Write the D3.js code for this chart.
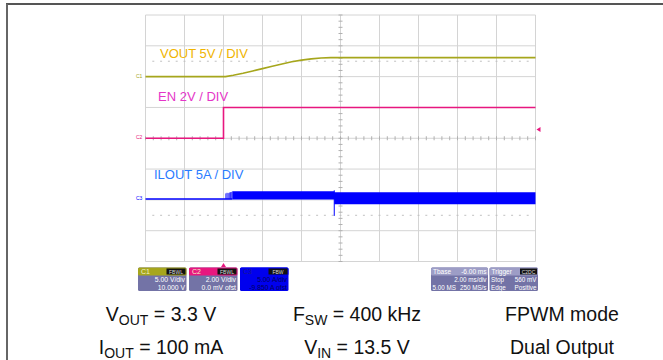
<!DOCTYPE html>
<html lang="en">
<head>
	<meta charset="utf-8">
	<title>Startup FPWM</title>
	<script src="https://d3js.org/d3.v7.min.js"></script>
	<style>
		body { margin: 0; background: #fff; }
		text { font-family: "Liberation Sans", Arial, sans-serif; }
	</style>
</head>
<body>
	<script>

	var width = 663, height = 360

	// time axis, ms (Tbase -6.00 ms, 2.00 ms/div)
	var timeTicks = [-4, -2, 0, 2, 4, 6, 8, 10, 12, 14, 16]
	var divTicks = [-4, -3, -2, -1, 0, 1, 2, 3, 4]

	// VOUT, V
	var voutTime = [-4, 0.1, 0.5, 1, 1.5, 2, 2.5, 3, 3.5, 4, 4.5, 5, 5.5, 16]
	var voutVal = [0, 0, 0.22, 0.55, 0.92, 1.3, 1.68, 2.05, 2.4, 2.68, 2.88, 3.02, 3.08, 3.08]

	// EN, V
	var enTime = [-4, 0, 0, 16]
	var enVal = [0, 0, 2, 2]

	// ILOUT, A (baseline, then switching envelope)
	var ilBaseTime = [-4, 0.45]
	var ilBaseVal = [0, 0]
	var ilSpikeTime = [0.12, 0.18, 0.24, 0.3, 0.36, 0.42]
	var ilSpikeVal = [0.9, 1.0, 0.95, 1.05, 1.1, 1.15]
	var ilBandTime = [0.45, 5.68, 5.68, 16]
	var ilBandHi = [1.25, 1.25, 1.1, 1.1]
	var ilBandLo = [-0.1, -0.1, -0.85, -0.85]
	var ilStepTime = 5.68
	var ilStepRange = [-2.75, 1.4]

	// channel settings
	var channels = [
		{name: "C1", perDiv: 5, offset: 10, color: "#a6a61c", label: "VOUT 5V / DIV", labelColor: "#f0b400"},
		{name: "C2", perDiv: 2, offset: 0, color: "#e8177f", label: "EN 2V / DIV", labelColor: "#e535c8"},
		{name: "C3", perDiv: 5, offset: -9.85, color: "#0000ff", label: "ILOUT 5A / DIV", labelColor: "#2a7cff"}
	]
	var triggerLevel = 0.56

	var boxInfo = [
		{title: "C1", badge: "FBWL", lines: ["5.00 V/div", "10.000 V"]},
		{title: "C2", badge: "FBWL", lines: ["2.00 V/div", "0.0 mV ofst"]},
		{title: "C3", badge: "FBW", lines: ["5.00 A/div", "-9.850 A ofst"]}
	]

	var svg = d3.select("body").append("svg")
		.attr("width", width)
		.attr("height", height)

	// frame
	svg.append("line").attr("x1", 6).attr("x2", width).attr("y1", 4).attr("y2", 4)
		.attr("stroke", "#555").attr("stroke-width", 2)
	svg.append("line").attr("x1", 7).attr("x2", 7).attr("y1", 4).attr("y2", height)
		.attr("stroke", "#666").attr("stroke-width", 2)

	var x = d3.scaleLinear().domain([-4, 16]).range([145.5, 535.5])
	var y = d3.scaleLinear().domain([-4, 4]).range([261.5, 15])

	function ch(i) {
		var c = channels[i]
		return function(v) { return y((v + c.offset) / c.perDiv) }
	}

	var grid = svg.append("g")
	grid.selectAll(".vg").data(timeTicks).enter().append("line")
		.attr("x1", d => x(d)).attr("x2", d => x(d))
		.attr("y1", y(4)).attr("y2", y(-4))
		.attr("stroke", "#d4d4d4").attr("stroke-width", 1)
	grid.selectAll(".hg").data(divTicks).enter().append("line")
		.attr("x1", x(-4)).attr("x2", x(16))
		.attr("y1", d => y(d)).attr("y2", d => y(d))
		.attr("stroke", "#d4d4d4").attr("stroke-width", 1)

	// minor ticks on centre axes and dotted reference lines
	var minorX = d3.range(-4, 16.01, 0.4)
	var minorY = d3.range(-4, 4.01, 0.2)
	grid.selectAll(".tx").data(minorX).enter().append("line")
		.attr("x1", d => x(d)).attr("x2", d => x(d))
		.attr("y1", y(0) - 2).attr("y2", y(0) + 2)
		.attr("stroke", "#b0b0b0")
	grid.selectAll(".ty").data(minorY).enter().append("line")
		.attr("x1", x(6) - 2).attr("x2", x(6) + 2)
		.attr("y1", d => y(d)).attr("y2", d => y(d))
		.attr("stroke", "#b0b0b0")
	;[2.5, -2.5].forEach(function(lv) {
		grid.selectAll(null).data(minorX.slice(1, -1)).enter().append("line")
			.attr("x1", d => x(d) - 1).attr("x2", d => x(d) + 1)
			.attr("y1", y(lv)).attr("y2", y(lv))
			.attr("stroke", "#c0c0c0")
	})

	// trace labels
	channels.forEach(function(c, i) {
		svg.append("text").attr("x", 136).attr("y", ch(i)(0) + 1)
			.attr("font-size", 5).attr("fill", c.color).text(c.name)
	})

	var line = d3.line()
	// VOUT
	svg.append("path")
		.attr("d", line(voutTime.map((t, i) => [x(t), ch(0)(voutVal[i])])))
		.attr("fill", "none").attr("stroke", channels[0].color).attr("stroke-width", 1.6)
	// EN
	svg.append("path")
		.attr("d", line(enTime.map((t, i) => [x(t), ch(1)(enVal[i])])))
		.attr("fill", "none").attr("stroke", channels[1].color).attr("stroke-width", 1.6)
	// ILOUT
	svg.append("path")
		.attr("d", line(ilBaseTime.map((t, i) => [x(t), ch(2)(ilBaseVal[i])])))
		.attr("fill", "none").attr("stroke", channels[2].color).attr("stroke-width", 1.6)
	svg.selectAll(".sp").data(ilSpikeTime).enter().append("line")
		.attr("x1", d => x(d)).attr("x2", d => x(d))
		.attr("y1", ch(2)(0)).attr("y2", (d, i) => ch(2)(ilSpikeVal[i]))
		.attr("stroke", channels[2].color).attr("stroke-width", 0.8)
	var band = d3.area()
		.x(d => x(d[0])).y0(d => ch(2)(d[2])).y1(d => ch(2)(d[1]))
	svg.append("path")
		.attr("d", band(ilBandTime.map((t, i) => [t, ilBandHi[i], ilBandLo[i]])))
		.attr("fill", channels[2].color)
	svg.append("line")
		.attr("x1", x(ilStepTime)).attr("x2", x(ilStepTime))
		.attr("y1", ch(2)(ilStepRange[0])).attr("y2", ch(2)(ilStepRange[1]))
		.attr("stroke", channels[2].color).attr("stroke-width", 1)

	// annotations
	var labelPos = [[160, 57.5], [158, 100.5], [154, 178.5]]
	channels.forEach(function(c, i) {
		svg.append("text").attr("x", labelPos[i][0]).attr("y", labelPos[i][1])
			.attr("font-size", 13).attr("fill", c.labelColor).text(c.label)
	})

	// trigger markers
	var ty = ch(1)(triggerLevel)
	svg.append("path")
		.attr("d", `M${x(16) + 1},${ty} l4,-2.5 l0,5 z`).attr("fill", channels[1].color)
	svg.append("path")
		.attr("d", `M${x(0)},${y(-4) + 1.5} l-2.5,4 l5,0 z`).attr("fill", channels[1].color)

	// scope info boxes
	var bx = [138, 189, 240], bw = 48.5, by = 267.5, bh = 23.5, hh = 8
	var body = "#7373a6"
	boxInfo.forEach(function(b, i) {
		var g = svg.append("g").attr("transform", `translate(${bx[i]},${by})`)
		var isBlue = i == 2
		g.append("rect").attr("width", bw).attr("height", bh).attr("rx", 1.5)
			.attr("fill", isBlue ? "#0000ee" : body)
		g.append("rect").attr("width", bw).attr("height", hh).attr("rx", 1.5)
			.attr("fill", isBlue ? "#0000ee" : channels[i].color)
		g.append("text").attr("x", 3).attr("y", 6.5).attr("font-size", 7)
			.attr("fill", isBlue ? "#1a1a90" : "#f2f2c8").text(b.title)
		g.append("rect").attr("x", bw - 20).attr("y", 1).attr("width", 19).attr("height", 6)
			.attr("fill", "#111")
		g.append("text").attr("x", bw - 10.5).attr("y", 6).attr("font-size", 5)
			.attr("text-anchor", "middle").attr("fill", "#ddd").text(b.badge)
		b.lines.forEach(function(t, j) {
			g.append("text").attr("x", bw - 1.5).attr("y", 14.5 + j * 7.5)
				.attr("font-size", 6.8).attr("text-anchor", "end")
				.attr("fill", isBlue ? "#000060" : "#fff").text(t)
		})
	})

	var rightBoxes = [
		{x: 431, w: 57, title: "Tbase", value: "-6.00 ms", rows: [["", "2.00 ms/div"], ["5.00 MS", "250 MS/s"]]},
		{x: 489.5, w: 48.5, title: "Trigger", badge: "C2DC", rows: [["Stop", "560 mV"], ["Edge", "Positive"]]}
	]
	rightBoxes.forEach(function(b) {
		var g = svg.append("g").attr("transform", `translate(${b.x},${by})`)
		g.append("rect").attr("width", b.w).attr("height", bh).attr("rx", 1.5).attr("fill", body)
		g.append("rect").attr("width", b.w).attr("height", hh).attr("rx", 1.5).attr("fill", "#9d9dc6")
		g.append("text").attr("x", 2).attr("y", 6.5).attr("font-size", 6.5).attr("fill", "#fff").text(b.title)
		if (b.value) {
			g.append("text").attr("x", b.w - 1.5).attr("y", 6.5).attr("font-size", 6.5)
				.attr("text-anchor", "end").attr("fill", "#fff").text(b.value)
		}
		if (b.badge) {
			g.append("rect").attr("x", b.w - 18).attr("y", 1).attr("width", 17).attr("height", 6).attr("fill", "#111")
			g.append("text").attr("x", b.w - 9.5).attr("y", 6).attr("font-size", 5)
				.attr("text-anchor", "middle").attr("fill", "#ddd").text(b.badge)
		}
		b.rows.forEach(function(r, j) {
			g.append("text").attr("x", 1.5).attr("y", 14.5 + j * 7.5).attr("font-size", 6.3)
				.attr("fill", "#fff").text(r[0])
			g.append("text").attr("x", b.w - 1.5).attr("y", 14.5 + j * 7.5).attr("font-size", 6.3)
				.attr("text-anchor", "end").attr("fill", "#fff").text(r[1])
		})
	})

	// test conditions
	var conditions = [
		[[["V", ""], ["OUT", "sub"], [" = 3.3 V", ""]], [["I", ""], ["OUT", "sub"], [" = 100 mA", ""]]],
		[[["F", ""], ["SW", "sub"], [" = 400 kHz", ""]], [["V", ""], ["IN", "sub"], [" = 13.5 V", ""]]],
		[[["FPWM mode", ""]], [["Dual Output", ""]]]
	]
	var colX = [161, 357, 562], rowY = [321, 354]
	conditions.forEach(function(col, ci) {
		col.forEach(function(parts, ri) {
			var t = svg.append("text").attr("x", colX[ci]).attr("y", rowY[ri])
				.attr("text-anchor", "middle").attr("font-size", 19.5).attr("fill", "#111")
			parts.forEach(function(p) {
				var s = t.append("tspan").text(p[0])
				if (p[1] == "sub") s.attr("font-size", 14).attr("dy", 4)
				else if (t.selectAll("tspan").size() > 1) s.attr("dy", -4)
			})
		})
	})

	</script>
</body>
</html>
